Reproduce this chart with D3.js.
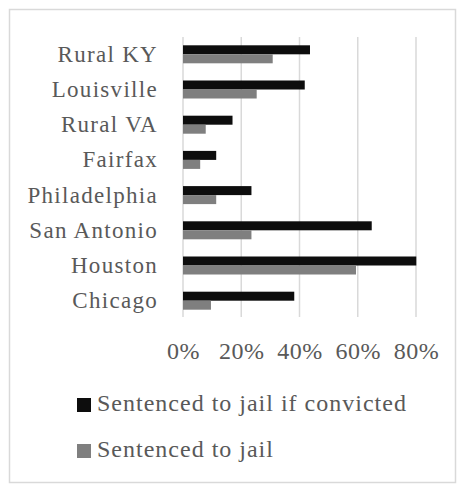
<!DOCTYPE html>
<html><head><meta charset="utf-8">
<script src="https://cdn.jsdelivr.net/npm/d3@7"></script>
<style>body{margin:0;background:#fff}svg{display:block}</style>
</head><body><svg id="c" width="462" height="488"></svg>
<script>
const categories = ["Rural KY","Louisville","Rural VA","Fairfax","Philadelphia","San Antonio","Houston","Chicago"];
const ifConvicted = [0.436,0.418,0.17,0.114,0.235,0.648,0.801,0.382];
const sentenced = [0.308,0.253,0.078,0.059,0.114,0.235,0.594,0.096];
const seriesNames = ["Sentenced to jail if convicted","Sentenced to jail"];
const tickValues = [0,0.2,0.4,0.6,0.8];
const colors = ["#0d0d0d","#7f7f7f"];
const FONT = "'Liberation Serif'";

const svg = d3.select("#c");
svg.append("rect").attr("x",9.5).attr("y",9.5).attr("width",446).attr("height",473)
  .attr("fill","#fff").attr("stroke","#d9d9d9").attr("stroke-width",1.5);

const x = d3.scaleLinear().domain([0,0.8]).range([183,416]);
const y = d3.scaleBand().domain(categories).range([36.7,318.3]);
const barH = 9;

svg.append("g").selectAll("line").data(tickValues).join("line")
  .attr("x1",d=>x(d)).attr("x2",d=>x(d)).attr("y1",37).attr("y2",317)
  .attr("stroke","#d9d9d9").attr("stroke-width",1.5);

const xAxis = d3.axisBottom(x).tickValues(tickValues).tickFormat(d3.format(".0%")).tickSize(0);
const gx = svg.append("g").attr("transform","translate(0,341)").call(xAxis);
gx.select(".domain").remove();
gx.attr("font-family",null).attr("font-size",null);
gx.selectAll("text").style("font-family",FONT).style("font-size","24px").attr("letter-spacing",0.5)
  .attr("fill","#595959").attr("dy",0).attr("y",18);

svg.append("g").selectAll("text").data(categories).join("text")
  .attr("x",158).attr("y",d=>y(d)+y.bandwidth()/2+7.5)
  .attr("text-anchor","end").style("font-family",FONT).style("font-size","23px")
  .attr("fill","#595959").attr("letter-spacing",1.3).text(d=>d);

const bars = svg.append("g");
bars.selectAll("rect.a").data(categories).join("rect").attr("class","a")
  .attr("x",x(0)).attr("y",d=>y(d)+y.bandwidth()/2-barH)
  .attr("width",(d,i)=>x(ifConvicted[i])-x(0)).attr("height",barH).attr("fill",colors[0]);
bars.selectAll("rect.b").data(categories).join("rect").attr("class","b")
  .attr("x",x(0)).attr("y",d=>y(d)+y.bandwidth()/2)
  .attr("width",(d,i)=>x(sentenced[i])-x(0)).attr("height",barH).attr("fill",colors[1]);

const lg = svg.append("g").selectAll("g").data(seriesNames).join("g")
  .attr("transform",(d,i)=>`translate(77,${398+i*46})`);
lg.append("rect").attr("width",14).attr("height",14).attr("fill",(d,i)=>colors[i]);
lg.append("text").attr("x",20).attr("y",13).style("font-family",FONT).style("font-size","24px")
  .attr("fill","#595959").attr("letter-spacing",1).text(d=>d);
</script></body></html>
